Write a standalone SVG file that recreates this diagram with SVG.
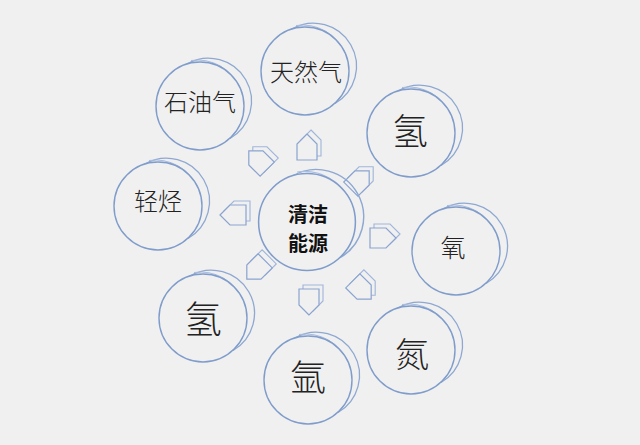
<svg xmlns="http://www.w3.org/2000/svg" xmlns:xlink="http://www.w3.org/1999/xlink" width="640" height="445" viewBox="0 0 640 445">
<style>
.back{fill:none;stroke:#8ea8d2;stroke-width:1.3}
.front{fill:#f0f0f0;stroke:#7f9ccb;stroke-width:1.4}
.rim{fill:none;stroke:#a9bde0;stroke-width:1}
.lbl{font-family:"Noto Sans CJK SC","Noto Sans CJK JP",sans-serif;fill:#222;text-anchor:middle;font-weight:300}
.ctr{font-family:"Noto Sans CJK SC","Noto Sans CJK JP",sans-serif;fill:#111;text-anchor:middle;font-weight:bold;font-size:20px}
.ab{fill:#f0f0f0;stroke:#9fb5da;stroke-width:1.1}
.af{fill:#f0f0f0;stroke:#8aa3cf;stroke-width:1.2}
</style>
<defs>
<g id="coin">
<path class="back" d="M -13 -42 A 43 43 0 0 1 30 32.5"/>
<path class="rim" d="M -9 -45.5 A 46 46 0 0 1 40 -18"/>
<circle class="front" cx="0" cy="0" r="44"/>
</g>
<polygon id="arr" points="0,-13 10,-3 10,13 -10,13 -10,-3"/>
</defs>
<rect width="640" height="445" fill="#f0f0f0"/>
<g id="connectors">
<g transform="translate(311,143)"><use xlink:href="#arr" class="ab"/></g>
<g transform="translate(307,147)"><use xlink:href="#arr" class="af"/></g>
<g transform="translate(364,176)"><use xlink:href="#arr" class="ab" transform="rotate(45)"/></g>
<g transform="translate(360,180)"><use xlink:href="#arr" class="af" transform="rotate(45)"/></g>
<g transform="translate(387,234)"><use xlink:href="#arr" class="ab" transform="rotate(90)"/></g>
<g transform="translate(383,238)"><use xlink:href="#arr" class="af" transform="rotate(90)"/></g>
<g transform="translate(366,286)"><use xlink:href="#arr" class="ab" transform="rotate(135)"/></g>
<g transform="translate(362,290)"><use xlink:href="#arr" class="af" transform="rotate(135)"/></g>
<g transform="translate(313,298)"><use xlink:href="#arr" class="ab" transform="rotate(180)"/></g>
<g transform="translate(309,302)"><use xlink:href="#arr" class="af" transform="rotate(180)"/></g>
<g transform="translate(260,266)"><use xlink:href="#arr" class="ab" transform="rotate(225)"/></g>
<g transform="translate(256,270)"><use xlink:href="#arr" class="af" transform="rotate(225)"/></g>
<g transform="translate(237,211)"><use xlink:href="#arr" class="ab" transform="rotate(270)"/></g>
<g transform="translate(233,215)"><use xlink:href="#arr" class="af" transform="rotate(270)"/></g>
<g transform="translate(262,156)"><use xlink:href="#arr" class="ab" transform="rotate(315)"/></g>
<g transform="translate(258,160)"><use xlink:href="#arr" class="af" transform="rotate(315)"/></g>
</g>
<g id="center">
<g transform="translate(307,222) scale(1.1)"><use xlink:href="#coin"/></g>
<text class="ctr" x="308" y="222">清洁</text>
<text class="ctr" x="308" y="251">能源</text>
</g>
<g id="n-tianranqi"><use xlink:href="#coin" transform="translate(305,71)"/><text class="lbl" x="306" y="81" font-size="24">天然气</text></g>
<g id="n-shiyouqi"><use xlink:href="#coin" transform="translate(200,106)"/><text class="lbl" x="200" y="111" font-size="24">石油气</text></g>
<g id="n-qing1"><use xlink:href="#coin" transform="translate(411,133)"/><text class="lbl" x="410" y="145" font-size="36">氢</text></g>
<g id="n-qingting"><use xlink:href="#coin" transform="translate(158,206)"/><text class="lbl" x="158" y="210" font-size="24">轻烃</text></g>
<g id="n-yang"><use xlink:href="#coin" transform="translate(456,251)"/><text class="lbl" x="453" y="257" font-size="25">氧</text></g>
<g id="n-qing2"><use xlink:href="#coin" transform="translate(203,318)"/><text class="lbl" x="203" y="333" font-size="38">氢</text></g>
<g id="n-dan"><use xlink:href="#coin" transform="translate(411,350)"/><text class="lbl" x="412" y="367" font-size="34">氮</text></g>
<g id="n-ya"><use xlink:href="#coin" transform="translate(308,380)"/><text class="lbl" x="308" y="391" font-size="36">氩</text></g>
</svg>
